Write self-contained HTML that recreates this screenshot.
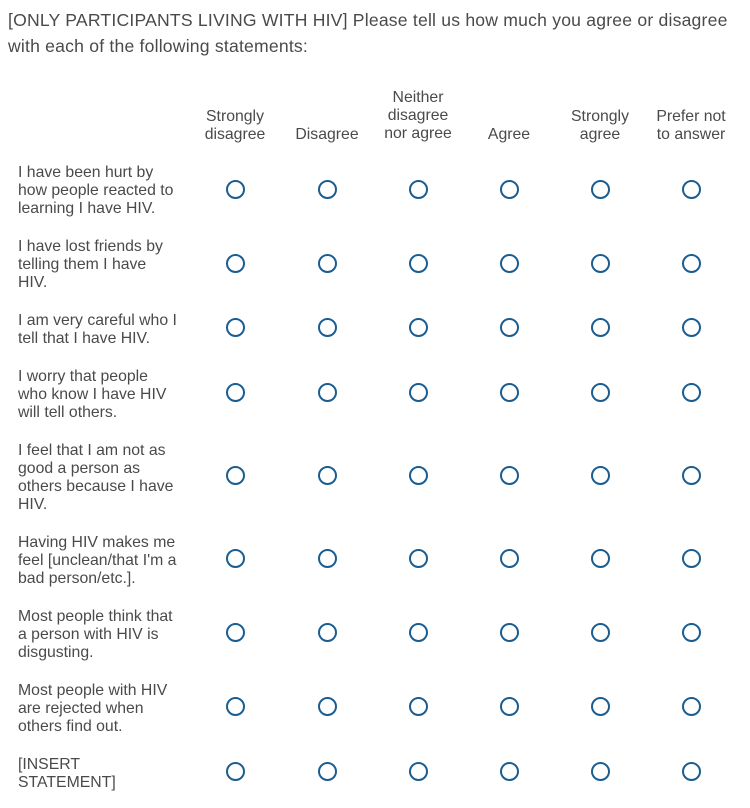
<!DOCTYPE html>
<html><head><meta charset="utf-8"><style>
body{margin:0;width:750px;height:808px;background:#fff;font-family:"Liberation Sans",Arial,sans-serif;color:#4a4a4a;position:relative;overflow:hidden}
.t{position:absolute;left:8px;top:7px;font-size:17.6px;line-height:26px;width:740px;letter-spacing:0.2px}
.h{position:absolute;font-size:15.8px;line-height:18px;text-align:center;width:100px;margin-left:-50px}
.l{position:absolute;left:18px;font-size:15.8px;line-height:18px;width:180px}
.c{position:absolute;width:15px;height:15px;border:2.2px solid #1b5d8f;border-radius:50%;margin:-9px 0 0 -9px}
</style></head><body>
<div class="t">[ONLY PARTICIPANTS LIVING WITH HIV] Please tell us how much you agree or disagree<br>with each of the following statements:</div>
<div class="h" style="left:235px;top:108px">Strongly<br>disagree</div>
<div class="h" style="left:327px;top:126px">Disagree</div>
<div class="h" style="left:418px;top:89px">Neither<br>disagree<br>nor agree</div>
<div class="h" style="left:509px;top:126px">Agree</div>
<div class="h" style="left:600px;top:108px">Strongly<br>agree</div>
<div class="h" style="left:691px;top:108px">Prefer not<br>to answer</div>
<div class="l" style="top:164px">I have been hurt by<br>how people reacted to<br>learning I have HIV.</div>
<div class="l" style="top:238px">I have lost friends by<br>telling them I have<br>HIV.</div>
<div class="l" style="top:312px">I am very careful who I<br>tell that I have HIV.</div>
<div class="l" style="top:368px">I worry that people<br>who know I have HIV<br>will tell others.</div>
<div class="l" style="top:442px">I feel that I am not as<br>good a person as<br>others because I have<br>HIV.</div>
<div class="l" style="top:534px">Having HIV makes me<br>feel [unclean/that I'm a<br>bad person/etc.].</div>
<div class="l" style="top:608px">Most people think that<br>a person with HIV is<br>disgusting.</div>
<div class="l" style="top:682px">Most people with HIV<br>are rejected when<br>others find out.</div>
<div class="l" style="top:756px">[INSERT<br>STATEMENT]</div>
<div id="g"></div>
<script>
var xs=[235,327,418,509,600,691],ys=[189,263,327,392,475,558,632,706,771],h='';
ys.forEach(function(y){xs.forEach(function(x){h+='<div class="c" style="left:'+x+'px;top:'+y+'px"></div>';});});
document.getElementById('g').innerHTML=h;
</script>
</body></html>
